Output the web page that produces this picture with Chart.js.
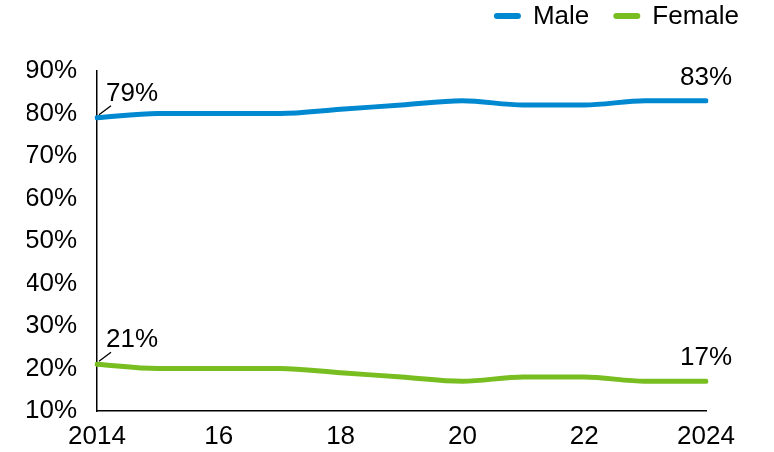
<!DOCTYPE html>
<html>
<head>
<meta charset="utf-8">
<script src="https://cdn.jsdelivr.net/npm/chart.js@4"></script>
<style>
html,body{margin:0;padding:0;background:#fff;}
#wrap{width:774px;height:452px;}
</style>
</head>
<body>
<div id="wrap"><canvas id="c" width="774" height="452"></canvas></div>
<script>
const years = [2014, 2015, 2016, 2017, 2018, 2019, 2020, 2021, 2022, 2023, 2024];
const xTickLabels = {2014: "2014", 2016: "16", 2018: "18", 2020: "20", 2022: "22", 2024: "2024"};
const maleValues = [79, 80, 80, 80, 81, 82, 83, 82, 82, 83, 83];
const femaleValues = [21, 20, 20, 20, 19, 18, 17, 18, 18, 17, 17];
const seriesNames = ["Male", "Female"];
const yTicks = [10, 20, 30, 40, 50, 60, 70, 80, 90];

const BLUE = "#0089D1";
const GREEN = "#78BE20";
const FONT = "'Liberation Sans', Arial, sans-serif";
const FS = 26;

const endLabels = {
  id: "endLabels",
  afterDatasetsDraw(chart) {
    const ctx = chart.ctx;
    ctx.save();
    ctx.font = FS + "px " + FONT;
    ctx.fillStyle = "#000";
    ctx.strokeStyle = "#000";
    ctx.lineWidth = 1.3;
    chart.data.datasets.forEach((ds, i) => {
      const meta = chart.getDatasetMeta(i);
      const p0 = meta.data[0];
      const pn = meta.data[meta.data.length - 1];
      ctx.beginPath();
      ctx.moveTo(p0.x + 2, p0.y - 3);
      ctx.lineTo(p0.x + 14, p0.y - 12);
      ctx.stroke();
      ctx.textAlign = "left";
      ctx.textBaseline = "alphabetic";
      ctx.fillText(ds.data[0] + "%", p0.x + 9, p0.y - 17);
      ctx.textAlign = "center";
      ctx.fillText(ds.data[ds.data.length - 1] + "%", pn.x, pn.y - 16);
    });
    ctx.restore();
  }
};

const customLegend = {
  id: "customLegend",
  afterDraw(chart) {
    const ctx = chart.ctx;
    ctx.save();
    ctx.font = FS + "px " + FONT;
    ctx.textBaseline = "middle";
    ctx.textAlign = "left";
    const cy = 16;
    const boxW = 27, gapText = 12, gapItem = 24;
    const items = chart.data.datasets.map(d => ({ text: d.label, color: d.borderColor, w: ctx.measureText(d.label).width }));
    let total = 0;
    items.forEach((it, i) => { total += boxW + gapText + it.w + (i < items.length - 1 ? gapItem : 0); });
    let x = 739 - total;
    items.forEach((it) => {
      ctx.strokeStyle = it.color;
      ctx.lineWidth = 6;
      ctx.lineCap = "round";
      ctx.beginPath();
      ctx.moveTo(x + 3, cy);
      ctx.lineTo(x + boxW - 3, cy);
      ctx.stroke();
      ctx.fillStyle = "#000";
      ctx.fillText(it.text, x + boxW + gapText, cy + 1);
      x += boxW + gapText + it.w + gapItem;
    });
    ctx.restore();
  }
};

new Chart(document.getElementById("c"), {
  type: "line",
  data: {
    labels: years,
    datasets: [
      { label: seriesNames[0], data: maleValues, borderColor: BLUE, backgroundColor: BLUE, borderWidth: 5, pointRadius: 0, cubicInterpolationMode: "monotone", borderCapStyle: "round" },
      { label: seriesNames[1], data: femaleValues, borderColor: GREEN, backgroundColor: GREEN, borderWidth: 5, pointRadius: 0, cubicInterpolationMode: "monotone", borderCapStyle: "round" }
    ]
  },
  options: {
    responsive: false,
    animation: false,
    layout: { padding: { left: 27, right: 68, top: 71, bottom: 0 } },
    plugins: {
      legend: { display: false },
      tooltip: { enabled: false }
    },
    scales: {
      x: {
        type: "category",
        grid: { display: false, drawTicks: false },
        border: { display: true, color: "#000", width: 1.5 },
        afterFit: (axis) => { axis.height = 41; },
        ticks: {
          autoSkip: false,
          maxRotation: 0,
          color: "#000",
          font: { family: FONT, size: FS },
          padding: 10,
          callback: function (v, i) { return xTickLabels[years[i]] || ""; }
        }
      },
      y: {
        min: 10,
        max: 90,
        afterBuildTicks: (axis) => { axis.ticks = yTicks.map(v => ({ value: v })); },
        afterFit: (axis) => { axis.width = 70; },
        grid: { display: false, drawTicks: false },
        border: { display: true, color: "#000", width: 1.5 },
        ticks: {
          color: "#000",
          font: { family: FONT, size: FS },
          padding: 20,
          callback: (v) => v + "%"
        }
      }
    }
  },
  plugins: [endLabels, customLegend]
});
</script>
</body>
</html>
